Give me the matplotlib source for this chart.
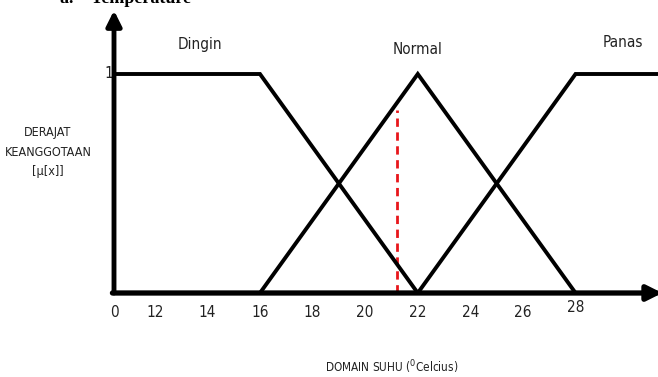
import matplotlib
matplotlib.use("Agg")
import matplotlib.pyplot as plt
from matplotlib.patches import FancyArrowPatch

# ---- data ----
tick_labels = ["0", "12", "14", "16", "18", "20", "22", "24", "26", "28"]
tick_values = [None, 12, 14, 16, 18, 20, 22, 24, 26, 28]
origin_x = 10.45          # where the "0" of the axis sits
x_end = 31.2

dingin_x = [origin_x, 16, 22]
dingin_y = [1, 1, 0]
normal_x = [16, 22, 28]
normal_y = [0, 1, 0]
panas_x = [22, 28, x_end]
panas_y = [0, 1, 1]
set_names = ["Dingin", "Normal", "Panas"]
set_label_x = [13.7, 22.0, 29.8]
red_x = 21.2

W, H = 658, 377
fig = plt.figure(figsize=(W / 100, H / 100), dpi=100)
ax = fig.add_axes([0, 0, 1, 1])
px_per_unit = 26.3
xmin = origin_x - 114 / px_per_unit
xmax = origin_x + (W - 114) / px_per_unit
ax.set_xlim(xmin, xmax)
ymax = 293 / 219
ymin = -(H - 293) / 219
ax.set_ylim(ymin, ymax)
ax.axis("off")

font = ["Liberation Sans Narrow", "DejaVu Sans", "Liberation Sans"]
kw = dict(family=font, fontstretch="condensed", color="#222222")

# membership functions
for xs, ys in [(dingin_x, dingin_y), (normal_x, normal_y), (panas_x, panas_y)]:
    ax.plot(xs, ys, color="black", lw=2.8, solid_capstyle="butt", solid_joinstyle="miter", zorder=3)

# red dashed line
mu_red = (red_x - normal_x[0]) / (normal_x[1] - normal_x[0])
ax.plot([red_x, red_x], [0, mu_red - 0.03], color="#e8161b", lw=2.0, ls=(0, (3, 2)), zorder=2)

# axes with arrows
ax.add_patch(FancyArrowPatch((origin_x, 0), (origin_x, 1.29), arrowstyle="-|>,head_length=9,head_width=4.5",
                             color="black", lw=3.5, shrinkA=0, shrinkB=0, zorder=4))
ax.add_patch(FancyArrowPatch((origin_x - 0.06, 0), (x_end + 0.1, 0), arrowstyle="-|>,head_length=9,head_width=4.5",
                             color="black", lw=3.8, shrinkA=0, shrinkB=0, zorder=4))

# tick labels
for lab, v in zip(tick_labels, tick_values):
    xv = origin_x if v is None else v
    dy = -0.064 if lab == "28" else -0.087
    ax.text(xv, dy, lab, ha="center", va="center", fontsize=11, **kw)

ax.text(origin_x - 0.02, 1.0, "1", ha="right", va="center", fontsize=11, **kw)

# set names
label_y = [1.135, 1.11, 1.145]
for name, lx, ly in zip(set_names, set_label_x, label_y):
    ax.text(lx, ly, name, ha="center", va="center", fontsize=11, **kw)

# axis labels
ax.text(48 / W, 1 - 152 / H, "DERAJAT\nKEANGGOTAAN\n[\u03bc[x]]", transform=ax.transAxes, ha="center",
        va="center", fontsize=9, linespacing=1.65, **kw)
ax.text(392 / W, 1 - 367 / H, "DOMAIN SUHU ($^{0}$Celcius)", transform=ax.transAxes, ha="center", va="center",
        fontsize=8.5, **kw)

# cut-off title
ax.text(60 / W, 1 - 3 / H, "a.    Temperature", transform=ax.transAxes, ha="left", va="baseline",
        fontsize=13, fontweight="bold", family=["Liberation Serif", "DejaVu Serif"], color="black")

fig.savefig("out.png", dpi=100)
